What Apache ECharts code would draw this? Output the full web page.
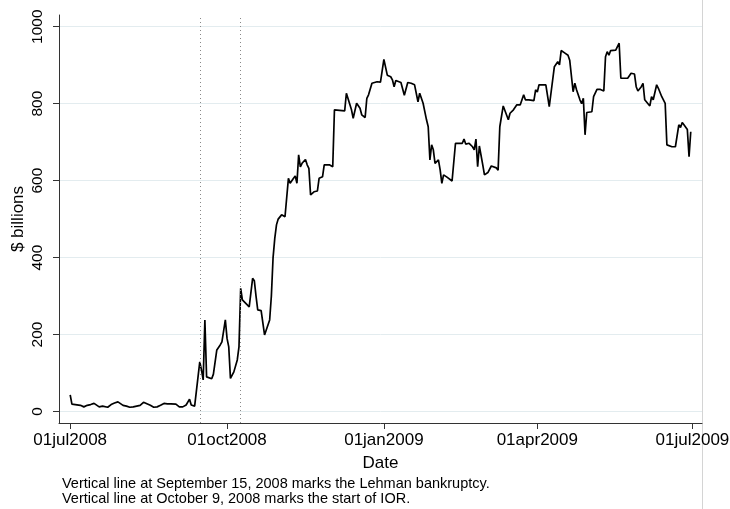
<!DOCTYPE html>
<html><head><meta charset="utf-8">
<script src="https://cdn.jsdelivr.net/npm/echarts@6/dist/echarts.min.js"></script>
<style>html,body{margin:0;padding:0;background:#fff}#c{width:730px;height:509px}</style>
</head><body><div id="c"></div>
<script>
const dates = [
'2008-07-01','2008-07-02','2008-07-04','2008-07-07','2008-07-09','2008-07-11','2008-07-13','2008-07-15','2008-07-16','2008-07-18',
'2008-07-20','2008-07-21','2008-07-23','2008-07-25','2008-07-27','2008-07-29','2008-07-30','2008-08-01','2008-08-03','2008-08-05',
'2008-08-07','2008-08-09','2008-08-11','2008-08-13','2008-08-15','2008-08-17','2008-08-19','2008-08-21','2008-08-23','2008-08-25',
'2008-08-27','2008-08-29','2008-09-01','2008-09-03','2008-09-05','2008-09-07','2008-09-08','2008-09-09','2008-09-10','2008-09-12',
'2008-09-15','2008-09-16','2008-09-17','2008-09-18','2008-09-19','2008-09-20','2008-09-22','2008-09-23','2008-09-24','2008-09-25',
'2008-09-27','2008-09-28','2008-09-30','2008-10-01','2008-10-02','2008-10-03','2008-10-05','2008-10-07','2008-10-08','2008-10-09',
'2008-10-10','2008-10-12','2008-10-14','2008-10-15','2008-10-16','2008-10-17','2008-10-18','2008-10-19','2008-10-21','2008-10-23',
'2008-10-24','2008-10-26','2008-10-27','2008-10-28','2008-10-29','2008-10-30','2008-10-31','2008-11-02','2008-11-04','2008-11-05',
'2008-11-06','2008-11-07','2008-11-09','2008-11-10','2008-11-11','2008-11-12','2008-11-13','2008-11-14','2008-11-16','2008-11-17',
'2008-11-18','2008-11-19','2008-11-21','2008-11-23','2008-11-24','2008-11-26','2008-11-27','2008-11-30','2008-12-02','2008-12-03',
'2008-12-04','2008-12-09','2008-12-10','2008-12-11','2008-12-13','2008-12-14','2008-12-16','2008-12-18','2008-12-19','2008-12-21',
'2008-12-22','2008-12-23','2008-12-25','2008-12-28','2008-12-29','2008-12-30','2009-01-01','2009-01-03','2009-01-05','2009-01-06',
'2009-01-07','2009-01-08','2009-01-09','2009-01-11','2009-01-13','2009-01-15','2009-01-17','2009-01-19','2009-01-21','2009-01-22',
'2009-01-24','2009-01-26','2009-01-27','2009-01-28','2009-01-29','2009-01-30','2009-01-31','2009-02-02','2009-02-03','2009-02-04',
'2009-02-05','2009-02-07','2009-02-10','2009-02-12','2009-02-16','2009-02-17','2009-02-18','2009-02-20','2009-02-22','2009-02-23',
'2009-02-24','2009-02-25','2009-02-26','2009-02-28','2009-03-01','2009-03-03','2009-03-04','2009-03-05','2009-03-08','2009-03-09',
'2009-03-10','2009-03-12','2009-03-15','2009-03-16','2009-03-18','2009-03-20','2009-03-22','2009-03-24','2009-03-25','2009-03-27',
'2009-03-30','2009-03-31','2009-04-01','2009-04-02','2009-04-06','2009-04-08','2009-04-09','2009-04-11','2009-04-13','2009-04-14',
'2009-04-15','2009-04-17','2009-04-19','2009-04-20','2009-04-22','2009-04-23','2009-04-24','2009-04-26','2009-04-27','2009-04-28',
'2009-04-29','2009-04-30','2009-05-03','2009-05-04','2009-05-06','2009-05-08','2009-05-10','2009-05-11','2009-05-12','2009-05-13',
'2009-05-14','2009-05-17','2009-05-19','2009-05-20','2009-05-21','2009-05-24','2009-05-26','2009-05-28','2009-05-29','2009-05-30',
'2009-06-01','2009-06-02','2009-06-03','2009-06-04','2009-06-06','2009-06-07','2009-06-08','2009-06-10','2009-06-11','2009-06-13',
'2009-06-15','2009-06-16','2009-06-19','2009-06-21','2009-06-23','2009-06-24','2009-06-25','2009-06-26','2009-06-28','2009-06-29',
'2009-06-30'
];
const values = [
43,19,18,16,12,16,18,21,24,12,
14,14,11,18,22,25,21,16,14,11,
12,14,16,24,20,16,11,12,16,21,
20,20,19,12,12,17,19,32,17,14,
129,108,82,238,90,86,85,97,95,160,
173,181,238,190,168,86,103,134,168,320,
290,281,272,271,346,340,300,264,262,199,
212,238,300,400,450,485,500,511,506,503,
606,593,606,612,593,667,636,645,655,641,
632,563,571,573,606,610,641,641,636,784,
781,781,827,823,784,762,801,788,771,764,
814,823,853,857,860,856,915,874,870,862,
844,860,860,855,822,855,853,849,805,827,
801,758,740,654,693,680,645,654,628,593,
615,609,599,697,697,708,695,697,688,680,
708,636,690,641,615,621,621,638,633,627,
740,794,758,775,784,797,797,823,810,810,
808,836,830,849,849,792,797,896,909,901,
938,932,926,913,831,853,836,810,800,814,
719,777,779,818,837,837,833,922,935,926,
938,939,957,866,866,866,879,877,844,833,
844,853,810,805,794,818,810,849,840,818,
801,693,688,688,745,738,751,745,733,662,
727
];
const tickDates = ['2008-07-01','2008-10-01','2009-01-01','2009-04-01','2009-07-01'];
const tickLabels = ['01jul2008','01oct2008','01jan2009','01apr2009','01jul2009'];
const yTicks = [0,200,400,600,800,1000];
const eventDates = ['2008-09-15','2008-10-09'];
const notes = ['Vertical line at September 15, 2008 marks the Lehman bankruptcy.',
               'Vertical line at October 9, 2008 marks the start of IOR.'];

function ts(s){const p=s.split('-');return Date.UTC(+p[0],+p[1]-1,+p[2]);}
const DAY = 86400000;
const FONT = "'Liberation Sans', Arial, Helvetica, sans-serif";
const tickVals = tickDates.map(ts);
const t0 = tickVals[0];
const data = dates.map((d,i)=>[ts(d), values[i]]);

const chart = echarts.init(document.getElementById('c'));
chart.setOption({
  animation: false,
  backgroundColor: '#fff',
  title: {
    text: notes.join('\n'), left: 62, top: 476, padding: 0,
    textStyle: {fontFamily: FONT, fontSize: 14.5, fontWeight: 'normal', color: '#000', lineHeight: 15.5}
  },
  grid: {left: 59, right: 28, top: 15, bottom: 86, containLabel: false, outerBoundsMode: 'none'},
  xAxis: {
    type: 'value', min: t0 - 6.57*DAY, max: t0 + 370.6*DAY,
    name: 'Date', nameLocation: 'middle', nameGap: 32, nameMoveOverlap: false,
    nameTextStyle: {fontFamily: FONT, fontSize: 17, color: '#000'},
    axisLine: {onZero: false, lineStyle: {color: '#333', width: 1}},
    axisTick: {customValues: tickVals, length: 6, lineStyle: {color: '#333', width: 1}},
    axisLabel: {customValues: tickVals, margin: 9, fontFamily: FONT, fontSize: 17, color: '#000',
      formatter: v => { const i = tickVals.indexOf(v); return i >= 0 ? tickLabels[i] : ''; }},
    splitLine: {show: false}
  },
  yAxis: {
    type: 'value', min: -29.9, max: 1030.4,
    name: '$ billions', nameLocation: 'middle', nameGap: 32, nameMoveOverlap: false,
    nameTextStyle: {fontFamily: FONT, fontSize: 17, color: '#000'},
    axisLine: {show: true, onZero: false, lineStyle: {color: '#333', width: 1}},
    axisTick: {show: true, customValues: yTicks, length: 6, lineStyle: {color: '#333', width: 1}},
    axisLabel: {customValues: yTicks, rotate: 90, margin: 13, fontFamily: FONT, fontSize: 15.5, color: '#000',
      formatter: v => String(v)},
    splitLine: {show: true, lineStyle: {color: '#e3ecef', width: 1}}
  },
  series: [{
    type: 'line', data: data, symbol: 'none', showSymbol: false,
    lineStyle: {color: '#000', width: 1.7},
    markLine: {
      silent: true, symbol: 'none', label: {show: false},
      lineStyle: {color: '#888', type: [1, 3], width: 1},
      data: eventDates.map(d => ({xAxis: ts(d)}))
    }
  }],
  graphic: [{type: 'line', shape: {x1: 702.5, y1: 0, x2: 702.5, y2: 509}, style: {stroke: '#d4d4d4', lineWidth: 1}}]
});
</script></body></html>
